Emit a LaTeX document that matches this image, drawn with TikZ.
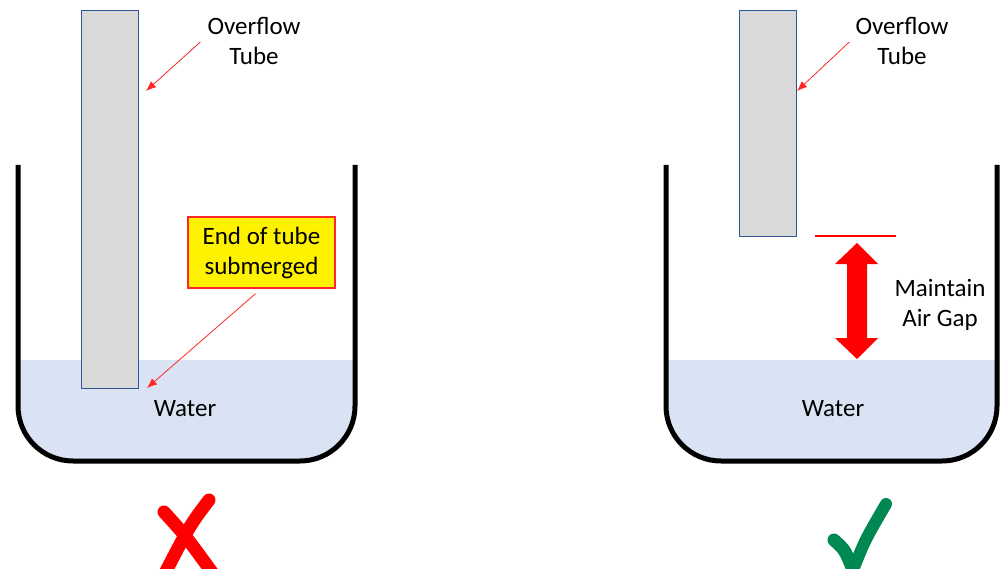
\documentclass[tikz,border=0pt]{standalone}
\usepackage{fontspec}
\setmainfont{Carlito}
\usetikzlibrary{arrows.meta}
\definecolor{waterc}{RGB}{218,227,243}
\definecolor{tubefill}{RGB}{217,217,217}
\definecolor{tubeline}{RGB}{47,85,151}
\definecolor{okgreen}{RGB}{0,136,82}
\definecolor{boxred}{RGB}{255,40,40}
\tikzset{
  wall/.style={line width=5pt, rounded corners=55pt},
  water/.style={fill=waterc, rounded corners=55pt},
  tube/.style={draw=tubeline, fill=tubefill, line width=0.9pt, inner sep=0pt, minimum width=57pt},
  lbl/.style={font=\fontsize{25}{30}\selectfont, align=center, inner sep=0pt},
  pointer/.style={draw=red!85, line width=0.8pt, -{Latex[length=10pt,width=8pt]}},
  note/.style={lbl, fill=yellow, draw=boxred, line width=1.4pt, minimum width=147pt, minimum height=71pt},
  verdict/.style={line width=13pt, line cap=round}
}
\begin{document}
\begin{tikzpicture}[x=1pt,y=-1pt]
\useasboundingbox (0,0) rectangle (1000,569);
\clip (0,0) rectangle (1000,569);
% water
\begin{scope}
  \clip (0,360) rectangle (1000,569);
  \fill[water] (18,165) -- (18,461) -- (355,461) -- (355,165) -- cycle;
  \fill[water] (666,165) -- (666,461) -- (997,461) -- (997,165) -- cycle;
\end{scope}
% containers
\draw[wall] (18,165) -- (18,461) -- (355,461) -- (355,165);
\draw[wall] (666,165) -- (666,461) -- (997,461) -- (997,165);
% tubes
\node[tube, minimum height=378pt] (tubeL) at (109.5,199) {};
\node[tube, minimum height=226pt] (tubeR) at (768,123) {};
% labels
\node[lbl] (ofL) at (254,41) {Overflow\\Tube};
\node[lbl] (ofR) at (902,41) {Overflow\\Tube};
\node[note] (sub) at (261.5,252.5) {End of tube\\submerged};
\node[lbl] (waterL) at (185,409) {Water};
\node[lbl] (waterR) at (833,409) {Water};
\node[lbl] (gap) at (940,305) {Maintain\\Air Gap};
% pointers
\coordinate (pL) at (146,91);
\coordinate (pR) at (797,91);
\coordinate (pS) at (147,388);
\draw[pointer] (ofL.west |- 0,42) ++(-7,0) coordinate (sL) -- (pL);
\draw[pointer] (ofR.west |- 0,42) ++(-6,0) coordinate (sR) -- (pR);
\draw[pointer] ([xshift=-6pt,yshift=-5pt]sub.south) -- (pS);
% air gap
\draw[red, line width=2pt] (815,236) -- (896,236);
\fill[red] (857,243) -- (878,264) -- (867,264) -- (867,338) -- (878,338) -- (857,359)
  -- (835,338) -- (847,338) -- (847,264) -- (835,264) -- cycle;
% marks
\draw[verdict, red] (164,512) .. controls (185,535) .. (214,575);
\draw[verdict, red] (209,500) .. controls (190,525) .. (164,575);
\draw[verdict, okgreen] (834,540) .. controls (845,550) .. (853,570);
\draw[verdict, okgreen, line width=12pt] (853,570) .. controls (865,540) .. (886,504);
\end{tikzpicture}
\end{document}
